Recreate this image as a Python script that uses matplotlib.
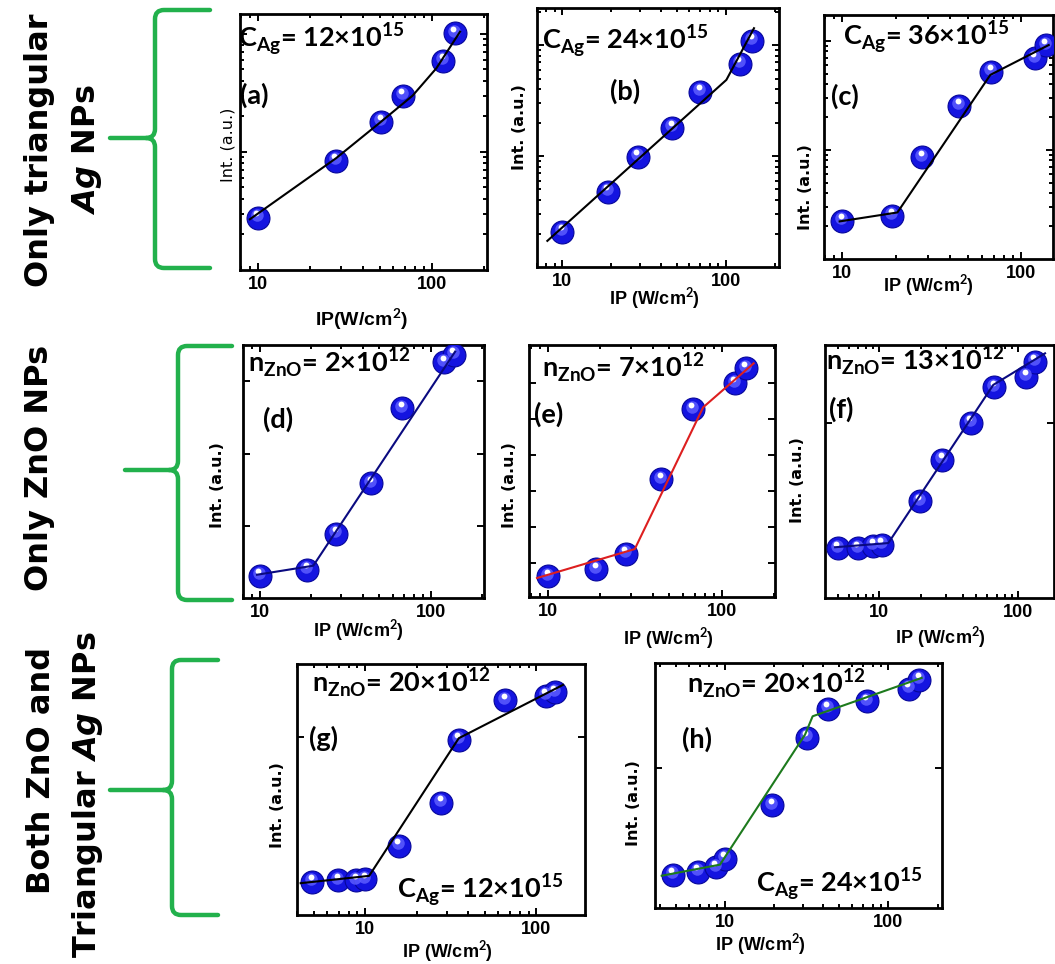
import matplotlib
matplotlib.use("Agg")
import matplotlib.pyplot as plt
from matplotlib.transforms import offset_copy
from matplotlib.ticker import (FixedLocator, NullLocator, NullFormatter,
                               FuncFormatter, LogLocator)
from matplotlib.path import Path
from matplotlib.patches import PathPatch

plt.rcParams['font.family'] = ['Liberation Sans', 'DejaVu Sans']
plt.rcParams['font.weight'] = 'bold'
plt.rcParams['mathtext.fontset'] = 'custom'
plt.rcParams['mathtext.rm'] = 'Lato:bold'
plt.rcParams['mathtext.bf'] = 'Lato:bold'
plt.rcParams['mathtext.it'] = 'DejaVu Sans:italic:bold'

# ---------------- data (IP in W/cm^2, intensity in a.u.) ----------------
a_ip = [10, 28, 51, 68, 116, 135]
a_int = [2.76, 8.44, 18.1, 30.0, 59.0, 101]
a_fit_ip = [9.0, 28.1, 50.2, 77.4, 106, 145]
a_fit_int = [2.69, 8.84, 17.7, 30.0, 51.2, 104.5]

b_ip = [10, 19, 29, 47, 70, 122, 145]
b_int = [2.07, 4.76, 9.86, 18.0, 38.1, 67.8, 109]
b_fit_ip = [8.1, 101, 149]
b_fit_int = [1.72, 48.6, 142]

c_ip = [10, 19, 28, 45, 68, 119, 137]
c_int = [2.25, 2.49, 8.58, 25.3, 52.0, 69.0, 91.3]
c_fit_ip = [9.66, 20.3, 67, 142]
c_fit_int = [2.21, 2.67, 48.6, 91.3]

d_ip = [10, 19, 28, 45, 68, 120, 136]
d_int = [2.03, 2.46, 7.75, 38.9, 425, 1840, 2320]
d_fit_ip = [9.66, 20.6, 139]
d_fit_int = [2.10, 2.80, 2580]

e_ip = [10, 19, 28, 45, 68, 119, 138]
e_int = [4.25, 6.81, 18.1, 2150, 1.9e5, 1.0e6, 2.61e6]
e_fit_ip = [8.64, 31.6, 78.3, 153]
e_fit_int = [3.83, 24.5, 2.15e5, 3.59e6]

f_ip = [5, 7, 9, 10.4, 19.6, 28.4, 45.5, 67.2, 114, 132]
f_int = [1.93, 1.93, 1.99, 2.01, 3.56, 6.15, 10.0, 16.0, 18.4, 22.4]
f_fit_ip = [4.8, 11.6, 66.1, 156]
f_fit_int = [1.95, 2.06, 16.5, 25.0]

g_ip = [4.9, 6.95, 8.9, 10, 15.7, 27.8, 35.2, 65.8, 113, 128]
g_int = [1.54, 1.57, 1.57, 1.59, 2.45, 4.29, 9.66, 16.1, 17.1, 17.9]
g_fit_ip = [4.2, 10.55, 35.2, 143]
g_fit_int = [1.51, 1.66, 9.87, 19.7]

h_ip = [4.8, 6.8, 8.8, 10, 19.5, 31.6, 42.6, 73.8, 133, 155]
h_int = [1.73, 1.81, 1.96, 2.24, 5.44, 16.4, 26.5, 29.9, 36.8, 42.7]
h_fit_ip = [4.1, 9.32, 30.9, 34.4, 160]
h_fit_int = [1.70, 2.04, 17.3, 23.4, 44.0]

x_ticks = [10, 100]
x_label = "IP (W/cm$^{\\mathrm{2}}$)"
y_label = "Int. (a.u.)"

# ---------------- layout ----------------
W, H = 1055, 964
fig = plt.figure(figsize=(W / 100, H / 100), dpi=100)
fig.patch.set_facecolor('white')

panels = [
    dict(d=(a_ip, a_int, a_fit_ip, a_fit_int), box=(240, 14, 487, 270),
         xlim=(7.9, 207), ylim=(1, 147.5), lc='black', ymaj=[10, 100], ymin=True),
    dict(d=(b_ip, b_int, b_fit_ip, b_fit_int), box=(537, 8, 779, 267),
         xlim=(7.0, 212), ylim=(1, 216), lc='black', ymaj=[10, 100], ymin=True),
    dict(d=(c_ip, c_int, c_fit_ip, c_fit_int), box=(824, 15, 1053, 259),
         xlim=(7.9, 150), ylim=(1, 172), lc='black', ymaj=[10, 100], ymin=True),
    dict(d=(d_ip, d_int, d_fit_ip, d_fit_int), box=(243, 345, 484, 598),
         xlim=(8.0, 205), ylim=(1, 3186), lc='#0a0a80', ymaj=[10, 100, 1000], ymin=False),
    dict(d=(e_ip, e_int, e_fit_ip, e_fit_int), box=(529, 345, 775, 597),
         xlim=(7.77, 203), ylim=(1.136, 1.16e7), lc='#dd1f1f',
         ymaj=[1e1, 1e2, 1e3, 1e4, 1e5, 1e6], ymin=False),
    dict(d=(f_ip, f_int, f_fit_ip, f_fit_int), box=(825, 345, 1054, 598),
         xlim=(4.06, 181), ylim=(1, 27.9), lc='#0a0a80', ymaj=[10], ymin=False),
    dict(d=(g_ip, g_int, g_fit_ip, g_fit_int), box=(297, 664, 585, 915),
         xlim=(4.0, 192), ylim=(1, 25.8), lc='black', ymaj=[10], ymin=False),
    dict(d=(h_ip, h_int, h_fit_ip, h_fit_int), box=(655, 663, 942, 908),
         xlim=(3.73, 213), ylim=(1, 56.2), lc='#1d7a1d', ymaj=[10], ymin=False),
]


def balls(ax, x, y):
    ax.plot(x, y, 'o', ms=16.5, mfc='#1414e0', mec='#06069a', mew=0.8,
            ls='none', zorder=3)
    t1 = offset_copy(ax.transData, fig=fig, x=-1.0, y=2.5, units='dots')
    ax.plot(x, y, 'o', ms=9, mfc='#5c5cff', mec='none', ls='none',
            transform=t1, zorder=3.1, alpha=0.85)
    t2 = offset_copy(ax.transData, fig=fig, x=-1.5, y=4.5, units='dots')
    ax.plot(x, y, 'o', ms=4.2, mfc='white', mec='none', ls='none',
            transform=t2, zorder=3.2)


for p in panels:
    x0, y0, x1, y1 = p['box']
    ax = fig.add_axes([x0 / W, 1 - y1 / H, (x1 - x0) / W, (y1 - y0) / H])
    ax.set_xscale('log')
    ax.set_yscale('log')
    ip, it, fip, fit = p['d']
    balls(ax, ip, it)
    ax.plot(fip, fit, '-', color=p['lc'], lw=1.5, zorder=4)
    ax.set_xlim(*p['xlim'])
    ax.set_ylim(*p['ylim'])
    ax.xaxis.set_major_locator(FixedLocator(x_ticks))
    ax.xaxis.set_major_formatter(FuncFormatter(lambda v, pos: f"{v:g}"))
    ax.xaxis.set_minor_locator(LogLocator(base=10, subs=range(2, 10)))
    ax.xaxis.set_minor_formatter(NullFormatter())
    ax.yaxis.set_major_locator(FixedLocator(p['ymaj']))
    ax.yaxis.set_major_formatter(NullFormatter())
    if p['ymin']:
        ax.yaxis.set_minor_locator(LogLocator(base=10, subs=range(2, 10)))
    else:
        ax.yaxis.set_minor_locator(NullLocator())
    ax.yaxis.set_minor_formatter(NullFormatter())
    ax.tick_params(which='both', direction='in', top=True, right=True,
                   width=1.4)
    ax.tick_params(which='major', length=5, labelsize=13, pad=4)
    ax.tick_params(which='minor', length=2.8)
    for s in ax.spines.values():
        s.set_linewidth(2.0)

# ---------------- overlay (brackets, texts) ----------------
ov = fig.add_axes([0, 0, 1, 1], zorder=10)
ov.set_xlim(0, W)
ov.set_ylim(H, 0)
ov.axis('off')
ov.patch.set_alpha(0)

green = '#22b14c'


def brace(xv, xend, ytop, ybot, ytip, xtip, r=9):
    verts = [(xend, ytop), (xv + r, ytop), (xv, ytop), (xv, ytop + r),
             (xv, ytip - r), (xv, ytip), (xv - r, ytip), (xtip, ytip),
             (xv - r, ytip), (xv, ytip), (xv, ytip + r),
             (xv, ybot - r), (xv, ybot), (xv + r, ybot), (xend, ybot)]
    codes = [Path.MOVETO, Path.LINETO, Path.CURVE3, Path.CURVE3,
             Path.LINETO, Path.CURVE3, Path.CURVE3, Path.LINETO,
             Path.MOVETO, Path.CURVE3, Path.CURVE3,
             Path.LINETO, Path.CURVE3, Path.CURVE3, Path.LINETO]
    ov.add_patch(PathPatch(Path(verts, codes), fill=False, ec=green, lw=3.2,
                           capstyle='round', joinstyle='round'))


brace(155, 210, 10, 268, 138, 110)
brace(178, 232, 346, 600, 470, 125)
brace(172, 218, 660, 915, 790, 110)

rowfont = dict(family='DejaVu Sans', weight='bold', fontsize=23,
               rotation=90, ha='center', va='center')
ov.text(40, 150, "Only triangular", **rowfont)
ov.text(87, 150, "$\\mathit{Ag}$ NPs", **rowfont)
ov.text(40, 468, "Only ZnO NPs", **rowfont)
ov.text(42, 770, "Both ZnO and", **rowfont)
ov.text(88, 795, "Triangular $\\mathit{Ag}$ NPs", **rowfont)

# panel annotations
ann = dict(family='Lato', weight='bold', fontsize=19.5, ha='left', va='baseline')


def cag_s(v):
    return "C$_{\\mathrm{Ag}}$= " + v + "×10$^{\\mathrm{15}}$"


def nzn_s(v):
    return "n$_{\\mathrm{ZnO}}$= " + v + "×10$^{\\mathrm{12}}$"


ov.text(238, 47, cag_s("12"), **ann)
ov.text(240, 104, "(a)", **ann)
ov.text(542, 49, cag_s("24"), **ann)
ov.text(610, 100, "(b)", **ann)
ov.text(843, 45, cag_s("36"), **ann)
ov.text(831, 105, "(c)", **ann)
ov.text(248, 372, nzn_s("2"), **ann)
ov.text(263, 428, "(d)", **ann)
ov.text(542, 377, nzn_s("7"), **ann)
ov.text(534, 423, "(e)", **ann)
ov.text(826, 370, nzn_s("13"), **ann)
ov.text(829, 418, "(f)", **ann)
ov.text(312, 692, nzn_s("20"), **ann)
ov.text(309, 747, "(g)", **ann)
ov.text(397, 898, cag_s("12"), **ann)
ov.text(687, 693, nzn_s("20"), **ann)
ov.text(682, 748, "(h)", **ann)
ov.text(756, 892, cag_s("24"), **ann)

# axis labels
xl = dict(family='Liberation Sans', weight='bold', fontsize=13,
          ha='center', va='center')
ov.text(362, 319, "IP(W/cm$^{\\mathrm{2}}$)", family='Liberation Sans',
        weight='bold', fontsize=14, ha='center', va='center')
for (x, y) in [(654, 298), (928, 285), (358, 630), (668, 638),
               (940, 637), (447, 951), (760, 944)]:
    ov.text(x, y, x_label, **xl)

yl = dict(family='DejaVu Sans', weight='bold', fontsize=11.5,
          rotation=90, ha='center', va='center')
ov.text(228, 145, y_label, family='DejaVu Sans', weight='normal',
        fontsize=11.5, rotation=90, ha='center', va='center')
for (x, y) in [(519, 127), (805, 187), (218, 485), (510, 485),
               (797, 480), (278, 805), (633, 803)]:
    ov.text(x, y, y_label, **yl)

fig.savefig("out.png", dpi=100)
